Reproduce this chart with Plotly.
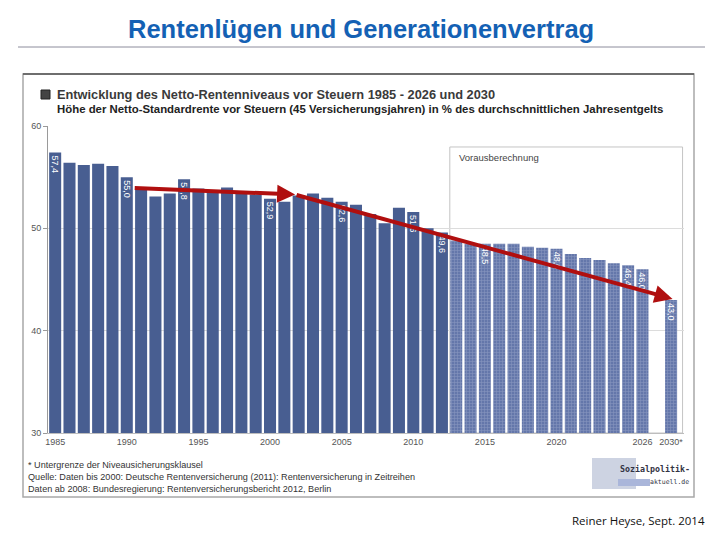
import plotly.graph_objects as go

# ---------------- data ----------------
hist_years = ["1985", "1986", "1987", "1988", "1989", "1990", "1991", "1992", "1993", "1994",
              "1995", "1996", "1997", "1998", "1999", "2000", "2001", "2002", "2003", "2004",
              "2005", "2006", "2007", "2008", "2009", "2010", "2011", "2012"]
hist_values = [57.4, 56.4, 56.2, 56.3, 56.1, 55.0, 53.9, 53.1, 53.4, 54.8,
               53.9, 53.7, 54.0, 53.6, 53.3, 52.9, 52.6, 53.2, 53.4, 53.0,
               52.6, 52.3, 51.4, 50.5, 52.0, 51.6, 50.0, 49.6]

fc_years = ["2013", "2014", "2015", "2016", "2017", "2018", "2019", "2020", "2021", "2022",
            "2023", "2024", "2025", "2026", "2030"]
fc_values = [48.8, 48.5, 48.5, 48.5, 48.5, 48.2, 48.1, 48.0, 47.5, 47.1,
             46.9, 46.6, 46.4, 46.0, 43.0]

labelled_years = ["1985", "1990", "1994", "2000", "2005", "2010", "2012",
                  "2015", "2020", "2025", "2026", "2030"]

tick_years = ["1985", "1990", "1995", "2000", "2005", "2010", "2015", "2020", "2026", "2030"]
tick_labels = ["1985", "1990", "1995", "2000", "2005", "2010", "2015", "2020", "2026", "2030*"]

y_ticks = [30, 40, 50, 60]

footnotes = [
    "* Untergrenze der Niveausicherungsklausel",
    "Quelle: Daten bis 2000: Deutsche Rentenversicherung (2011): Rentenversicherung in Zeitreihen",
    "Daten ab 2008: Bundesregierung: Rentenversicherungsbericht 2012, Berlin",
]

# ---------------- helpers ----------------
OFF = 8                      # page body margin of the browser
W, H = 720 - OFF, 540 - OFF
L, T = 48 - OFF, 126 - OFF   # plot area left / top in figure pixels
R = W - (684 - OFF)
B = H - (433 - OFF)
PW, PH = W - L - R, H - T - B


def px(x):
    """reference page x (pixels) -> paper fraction"""
    return (x - OFF - L) / PW


def py(y):
    """reference page y (pixels) -> paper fraction"""
    return (H - B - (y - OFF)) / PH


def lab(years, values):
    return [f"{v:.1f}".replace(".", ",") if y in labelled_years else "" for y, v in zip(years, values)]


cat_order = hist_years + fc_years[:-1] + [" "] + fc_years[-1:]

FONT = "Liberation Sans, Arial, sans-serif"

fig = go.Figure()

fig.add_trace(go.Bar(
    x=hist_years, y=hist_values,
    marker=dict(color="#485e91", line=dict(width=0)),
    text=lab(hist_years, hist_values), textposition="inside", insidetextanchor="end",
    textangle=90, textfont=dict(color="white", size=9, family=FONT),
    constraintext="none", showlegend=False, hoverinfo="x+y",
))

fig.add_trace(go.Bar(
    x=fc_years, y=fc_values,
    marker=dict(color="#6477aa", line=dict(width=0),
                pattern=dict(shape="+", size=3, solidity=0.35, fgcolor="#a9b4d2")),
    text=lab(fc_years, fc_values), textposition="inside", insidetextanchor="end",
    textangle=90, textfont=dict(color="white", size=9, family=FONT),
    constraintext="none", showlegend=False, hoverinfo="x+y",
))

# invisible placeholder to reserve the gap slot between 2026 and 2030
fig.add_trace(go.Bar(x=[" "], y=[0], marker=dict(opacity=0), showlegend=False, hoverinfo="skip"))

shapes = []
annotations = []

# outer frame of the embedded chart
shapes.append(dict(type="rect", xref="paper", yref="paper",
                   x0=px(23), x1=px(694), y0=py(497), y1=py(74),
                   line=dict(color="#a8a8a8", width=1.5), fillcolor="rgba(0,0,0,0)", layer="below"))
shapes.append(dict(type="line", xref="paper", yref="paper",
                   x0=px(23), x1=px(694), y0=py(74), y1=py(74),
                   line=dict(color="#555555", width=1.5)))
# slide title underline
shapes.append(dict(type="line", xref="paper", yref="paper",
                   x0=px(18), x1=px(705), y0=py(47), y1=py(47),
                   line=dict(color="#8c8c9c", width=1)))
# square bullet of the chart title
shapes.append(dict(type="rect", xref="paper", yref="paper",
                   x0=px(41), x1=px(50), y0=py(99), y1=py(90),
                   line=dict(color="#222222", width=1), fillcolor="#444444"))
# Vorausberechnung box
shapes.append(dict(type="rect", xref="x", yref="y",
                   x0=27.55, x1=43.8, y0=30, y1=57.95,
                   line=dict(color="#c4c4c4", width=1), fillcolor="rgba(0,0,0,0)", layer="below"))
# logo placeholder band
shapes.append(dict(type="rect", xref="paper", yref="paper",
                   x0=px(592), x1=px(636), y0=py(489), y1=py(458),
                   line=dict(width=0), fillcolor="#cdd3e2", layer="below"))
shapes.append(dict(type="rect", xref="paper", yref="paper",
                   x0=px(618), x1=px(650), y0=py(486), y1=py(479),
                   line=dict(width=0), fillcolor="#aab6da", layer="below"))

# slide title
annotations.append(dict(text="<b>Rentenlügen und Generationenvertrag</b>", xref="paper", yref="paper",
                        x=px(361), y=py(29), xanchor="center", yanchor="middle", showarrow=False,
                        font=dict(size=25.5, color="#1461b4", family=FONT)))
# chart title and subtitle
annotations.append(dict(text="<b>Entwicklung des Netto-Rentenniveaus vor Steuern 1985 - 2026 und 2030</b>",
                        xref="paper", yref="paper", x=px(55), y=py(95), xanchor="left", yanchor="middle",
                        showarrow=False, font=dict(size=12.8, color="#3a3a3a", family=FONT)))
annotations.append(dict(text="<b>Höhe der Netto-Standardrente vor Steuern (45 Versicherungsjahren) in % des durchschnittlichen Jahresentgelts</b>",
                        xref="paper", yref="paper", x=px(55), y=py(109), xanchor="left", yanchor="middle",
                        showarrow=False, font=dict(size=11.4, color="#222222", family=FONT)))
annotations.append(dict(text="Vorausberechnung", xref="paper", yref="paper", x=px(457), y=py(157),
                        xanchor="left", yanchor="middle", showarrow=False,
                        font=dict(size=9.5, color="#444444", family=FONT)))
for i, t in enumerate(footnotes):
    annotations.append(dict(text=t, xref="paper", yref="paper", x=px(26), y=py(465 + 12 * i),
                            xanchor="left", yanchor="middle", showarrow=False,
                            font=dict(size=9.1, color="#333333", family=FONT)))
annotations.append(dict(text="<b>Sozialpolitik-</b>", xref="paper", yref="paper", x=px(618), y=py(469),
                        xanchor="left", yanchor="middle", showarrow=False,
                        font=dict(size=8.3, color="#333344", family="DejaVu Sans Mono")))
annotations.append(dict(text="aktuell.de", xref="paper", yref="paper", x=px(648), y=py(482),
                        xanchor="left", yanchor="middle", showarrow=False,
                        font=dict(size=6.5, color="#333344", family="DejaVu Sans Mono")))
annotations.append(dict(text="Reiner Heyse, Sept. 2014", xref="paper", yref="paper", x=px(707), y=py(520),
                        xanchor="right", yanchor="middle", showarrow=False,
                        font=dict(size=11.5, color="#111111", family="Open Sans, sans-serif")))

# red trend arrows
RED = "#b00f0f"
annotations.append(dict(x=16.75, y=53.3, ax=5.45, ay=53.95, xref="x", yref="y", axref="x", ayref="y",
                        showarrow=True, arrowhead=2, arrowsize=0.9, arrowwidth=4, arrowcolor=RED, text=""))
annotations.append(dict(x=43.1, y=43.1, ax=16.75, ay=53.3, xref="x", yref="y", axref="x", ayref="y",
                        showarrow=True, arrowhead=2, arrowsize=0.9, arrowwidth=4, arrowcolor=RED, text=""))

fig.update_layout(
    width=W, height=H,
    margin=dict(l=L, r=R, t=T, b=B, pad=0),
    paper_bgcolor="white", plot_bgcolor="white",
    barmode="overlay", bargap=0.16,
    shapes=shapes, annotations=annotations,
    font=dict(family=FONT),
    xaxis=dict(type="category", categoryorder="array", categoryarray=cat_order,
               range=[-0.5, 43.9], tickmode="array", tickvals=tick_years, ticktext=tick_labels,
               showgrid=False, showline=True, linecolor="#bdbdbd", ticks="",
               tickfont=dict(size=9, color="#555555"), fixedrange=True),
    yaxis=dict(range=[30, 60], tickvals=y_ticks, showgrid=True, gridcolor="#dcdcdc",
               showline=True, linecolor="#9a9a9a", ticks="outside", ticklen=4, tickcolor="#9a9a9a",
               tickfont=dict(size=9, color="#555555"), zeroline=False, fixedrange=True),
)

fig.write_html("out.html")
